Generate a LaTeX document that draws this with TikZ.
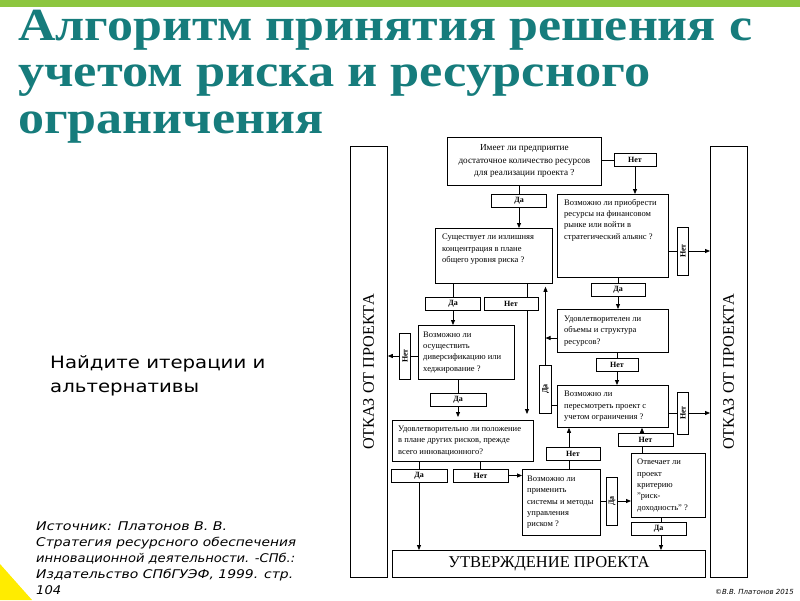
\documentclass[tikz,border=0pt]{standalone}
\usepackage{fontspec}
\setmainfont{Liberation Serif}
\newfontfamily\dejasans{DejaVu Sans}
\usetikzlibrary{arrows.meta,backgrounds}
\definecolor{titleteal}{RGB}{22,124,124}
\definecolor{bargreen}{RGB}{141,198,63}
\definecolor{cornyellow}{RGB}{255,236,0}
\begin{document}
\begin{tikzpicture}[x=1pt,y=-1pt,
  box/.style={draw, line width=0.8pt, fill=white, inner sep=0pt, anchor=north west},
  lbl/.style={draw, line width=0.8pt, fill=white, inner sep=0pt, font=\bfseries\fontsize{8}{9}\selectfont, minimum height=13pt},
  vlbl/.style={lbl, rotate=90, minimum height=11pt},
  txt/.style={inner sep=0pt, font=\fontsize{8.5}{11.3}\selectfont, align=left},
  conn/.style={line width=0.8pt},
  arr/.style={conn, -{Triangle[length=5pt,width=4pt]}},
  titlef/.style={inner sep=0pt, anchor=base west, text=titleteal, font=\bfseries\fontsize{46}{46}\selectfont},
  bodyf/.style={inner sep=0pt, anchor=base west, font=\dejasans\fontsize{17}{20}\selectfont},
  srcf/.style={inner sep=0pt, anchor=base west, font=\dejasans\itshape\fontsize{12}{14}\selectfont},
  bigf/.style={font=\fontsize{16.2}{17}\selectfont}
]
\useasboundingbox (0,0) rectangle (800,600);

% title
\node[titlef] (t1) at (18,40) {\resizebox{734pt}{\height}{Алгоритм принятия решения с}};
\node[titlef] (t2) at (18,86) {\resizebox{632pt}{\height}{учетом риска и ресурсного}};
\node[titlef] (t3) at (18,133) {\resizebox{305pt}{\height}{ограничения}};

% side texts
\node[bodyf] (q1) at (50,368) {\scalebox{1.16}[1]{Найдите итерации и}};
\node[bodyf] (q2) at (50,392) {\scalebox{1.16}[1]{альтернативы}};
\node[srcf] (s1) at (36,530) {\resizebox{191pt}{\height}{Источник: Платонов В. В.}};
\node[srcf] (s2) at (36,546) {\resizebox{260pt}{\height}{Стратегия ресурсного обеспечения}};
\node[srcf] (s3) at (36,562) {\resizebox{259pt}{\height}{инновационной деятельности. -СПб.:}};
\node[srcf] (s4) at (36,578) {\resizebox{257pt}{\height}{Издательство СПбГУЭФ, 1999. стр.}};
\node[srcf] (s5) at (36,594) {\resizebox{25pt}{\height}{104}};
\node[inner sep=0pt, anchor=base east, font=\dejasans\itshape\fontsize{7}{8}\selectfont] (cp) at (794,594) {©В.В. Платонов 2015};

% tall boxes
\node[box, minimum width=37pt, minimum height=431pt] (L) at (350,146) {};
\node[bigf, rotate=90] (Lt) at (368.5,372) {ОТКАЗ ОТ ПРОЕКТА};
\node[box, minimum width=37pt, minimum height=431pt] (R) at (710,146) {};
\node[bigf, rotate=90] (Rt) at (728.5,372) {ОТКАЗ ОТ ПРОЕКТА};
\node[box, font=\fontsize{16.5}{17}\selectfont, minimum width=313pt, minimum height=27pt] (B) at (392,550) {УТВЕРЖДЕНИЕ ПРОЕКТА};

% question boxes
\node[box, minimum width=154pt, minimum height=48pt] (b1) at (447,137) {};
\node[txt, align=center, font=\fontsize{9.2}{12.5}\selectfont] (b1t) at (b1.center) {Имеет ли предприятие\\достаточное количество ресурсов\\для реализации проекта ?};
\node[box, minimum width=117pt, minimum height=55pt] (b2) at (435,228) {};
\node[txt, anchor=north west] (b2t) at ([xshift=7pt,yshift=-6pt]b2.north west) {Существует ли излишняя\\концентрация в плане\\общего уровня риска ?};
\node[box, minimum width=111pt, minimum height=83pt] (b3) at (557,194) {};
\node[txt, anchor=north west] (b3t) at ([xshift=7pt,yshift=-5pt]b3.north west) {Возможно ли приобрести\\ресурсы на финансовом\\рынке или войти в\\стратегический альянс ?};
\node[box, minimum width=111pt, minimum height=43pt] (b4) at (557,309) {};
\node[txt, anchor=west] (b4t) at ([xshift=7pt]b4.west) {Удовлетворителен ли\\объемы и структура\\ресурсов?};
\node[box, minimum width=111pt, minimum height=42pt] (b5) at (557,385) {};
\node[txt, anchor=west] (b5t) at ([xshift=7pt]b5.west) {Возможно ли\\пересмотреть проект с\\учетом ограничения ?};
\node[box, minimum width=96pt, minimum height=54pt] (b8) at (418,325) {};
\node[txt, anchor=west] (b8t) at ([xshift=5pt]b8.west) {Возможно ли\\осуществить\\диверсификацию или\\хеджирование ?};
\node[box, minimum width=141pt, minimum height=41pt] (b9) at (392,420) {};
\node[txt, anchor=west] (b9t) at ([xshift=6pt]b9.west) {Удовлетворительно ли положение\\в плане других рисков, прежде\\всего инновационного?};
\node[box, minimum width=78pt, minimum height=66pt] (b6) at (522,469) {};
\node[txt, anchor=west] (b6t) at ([xshift=5pt]b6.west) {Возможно ли\\применить\\системы и методы\\управления\\риском ?};
\node[box, minimum width=74pt, minimum height=64pt] (b7) at (631,453) {};
\node[txt, anchor=west] (b7t) at ([xshift=6pt]b7.west) {Отвечает ли\\проект\\критерию\\"риск-\\доходность" ?};

% answer labels
\node[lbl, minimum width=55pt] (d1) at (519,201) {Да};
\node[lbl, minimum width=42pt] (n1) at (635,160) {Нет};
\node[vlbl, minimum width=48pt] (nv1) at (683,251) {Нет};
\node[lbl, minimum width=54pt] (d2) at (618,289.5) {Да};
\node[lbl, minimum width=42pt] (n2) at (617,365) {Нет};
\node[vlbl, minimum width=42pt] (nv2) at (683,413) {Нет};
\node[lbl, minimum width=55pt] (dL) at (453,303.5) {Да};
\node[lbl, minimum width=54pt] (nL) at (511,303.5) {Нет};
\node[vlbl, minimum width=46pt] (nv3) at (405,356) {Нет};
\node[lbl, minimum width=56pt] (d3) at (458,399.5) {Да};
\node[lbl, minimum width=56pt] (d4) at (419,475.5) {Да};
\node[lbl, minimum width=55pt] (n4) at (480.5,475.5) {Нет};
\node[lbl, minimum width=54pt] (n6) at (573,454) {Нет};
\node[vlbl, minimum width=48pt] (dv6) at (612,501) {Да};
\node[lbl, minimum width=55pt] (n7) at (645.5,440) {Нет};
\node[lbl, minimum width=55pt] (d7) at (658.5,529) {Да};
\node[vlbl, minimum width=48pt, minimum height=12pt] (dv5) at (545.5,389) {Да};

\coordinate (cN) at (527,0);
\coordinate (cA) at (569,0);
\coordinate (cB) at (642,0);
\coordinate (cC) at (661,0);
\coordinate (cD) at (0,405);
\coordinate (cE) at (0,338);

\begin{scope}[on background layer]
\fill[white] (0,0) rectangle (800,600);
\fill[bargreen] (0,0) rectangle (800,7);
\fill[cornyellow] (0,564) -- (32,600) -- (0,600) -- cycle;
\draw[arr] (b1.south -| d1) -- (b2.north -| d1);
\draw[conn] (b1.east |- n1) -- (n1.west);
\draw[arr] (n1) -- (b3.north -| n1);
\draw[arr] (b3.east |- nv1) -- (R.west |- nv1);
\draw[arr] (b3.south -| d2) -- (b4.north -| d2);
\draw[arr] (b4.south -| n2) -- (b5.north -| n2);
\draw[arr] (b5.east |- nv2) -- (R.west |- nv2);
\draw[arr] (b2.south -| dL) -- (b8.north -| dL);
\draw[arr, shorten >=6pt] (b2.south -| cN) -- (b9.north -| cN);
\draw[arr] (b8.west |- nv3) -- (L.east |- nv3);
\draw[arr, shorten >=3pt] (b8.south -| d3) -- (b9.north -| d3);
\draw[arr] (b9.south -| d4) -- (B.north -| d4);
\draw[conn] (b9.south -| n4) -- (n4);
\draw[arr] (n4.east) -- (b6.west |- n4.east);
\draw[arr] (b6.north -| cA) -- (b5.south -| cA);
\draw[arr] (b6.east |- dv6) -- (b7.west |- dv6);
\draw[arr] (b7.north -| cB) -- (b5.south -| cB);
\draw[arr] (b7.south -| cC) -- (B.north -| cC);
\draw[conn] (b5.west |- cD) -- (dv5 |- cD);
\draw[arr, shorten >=3pt] (dv5) -- (b2.south -| dv5);
\draw[arr] (b4.west |- cE) -- (dv5 |- cE);
\end{scope}
\end{tikzpicture}
\end{document}
